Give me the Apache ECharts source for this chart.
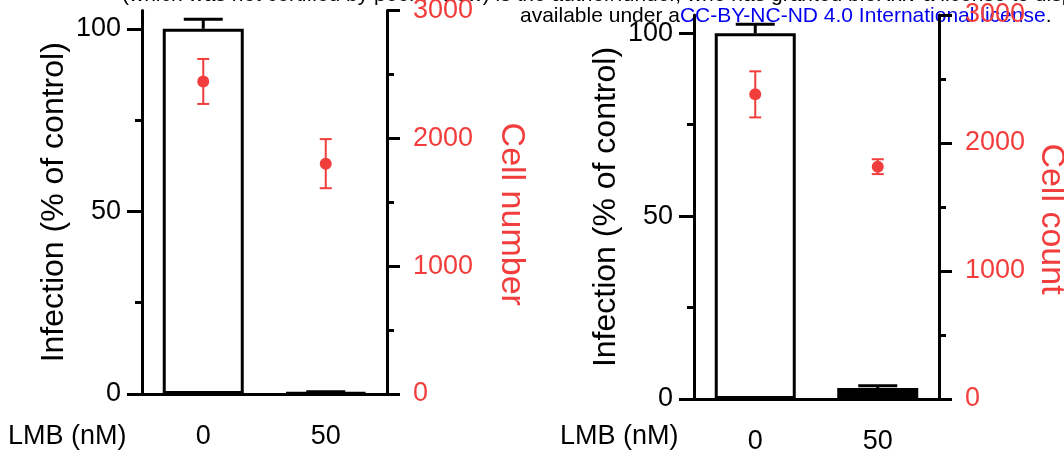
<!DOCTYPE html>
<html>
<head>
<meta charset="utf-8">
<script src="https://cdn.jsdelivr.net/npm/echarts@6/dist/echarts.min.js"></script>
<style>
  html, body { margin: 0; padding: 0; background: #fff; }
  #chart { width: 1064px; height: 457px; }
</style>
</head>
<body>
<div id="chart"></div>
<script>
// LMB dose (nM)
const doses = ['0', '50']
// left panel: infection (% of control) + cell number
const infectionA = [100, 0.4]
const infectionErrA = [2.6, 0.2]
const cellNumberA = [2445, 1802]
const cellNumberErrA = [176, 192]
// right panel: infection (% of control) + cell count
const infectionB = [100, 3]
const infectionErrB = [2.5, 0.6]
const cellCountB = [2380, 1815]
const cellCountErrB = [180, 58]
// tick labels of the infection axis
const infectionTicks = [0, 50, 100]

const font = 'Liberation Sans, Arial, sans-serif'
const red = '#f23d3d'
const axisStyle = { color: '#000', width: 3 }

// error bar drawer for custom series, data = [category, value, err]
function errorBars (color, width, cap, upOnly) {
  return function (params, api) {
    const x = api.value(0)
    const y = api.value(1)
    const e = api.value(2)
    const top = api.coord([x, y + e])
    const mid = api.coord([x, y])
    const bot = upOnly ? mid : api.coord([x, y - e])
    const style = { stroke: color, lineWidth: width }
    const children = [
      { type: 'line', shape: { x1: top[0], y1: top[1], x2: bot[0], y2: bot[1] }, style },
      { type: 'line', shape: { x1: top[0] - cap / 2, y1: top[1], x2: top[0] + cap / 2, y2: top[1] }, style }
    ]
    if (!upOnly) {
      children.push({ type: 'line', shape: { x1: bot[0] - cap / 2, y1: bot[1], x2: bot[0] + cap / 2, y2: bot[1] }, style })
    }
    return { type: 'group', children }
  }
}

function withErr (vals, errs) {
  return vals.map((v, i) => [i, v, errs[i]])
}

function xAxisFor (gi) {
  return {
    gridIndex: gi,
    type: 'category',
    data: doses,
    axisLine: { lineStyle: axisStyle },
    axisTick: { alignWithLabel: true, length: 15, lineStyle: { color: '#000', width: 4 } },
    axisLabel: { color: '#000', fontSize: 27, margin: 29, fontFamily: font }
  }
}

function infectionAxis (gi) {
  return {
    gridIndex: gi,
    type: 'value',
    min: 0,
    max: 105,
    interval: 50,
    name: 'Infection (% of control)',
    nameLocation: 'middle',
    nameGap: 72,
    nameTextStyle: { color: '#000', fontSize: 32, fontFamily: font },
    axisLine: { show: true, lineStyle: axisStyle },
    axisTick: { show: true, length: 15, customValues: infectionTicks, lineStyle: axisStyle },
    minorTick: { show: true, splitNumber: 2, length: 7, lineStyle: axisStyle },
    axisLabel: { customValues: infectionTicks, color: '#000', fontSize: 27, margin: 21, fontFamily: font },
    splitLine: { show: false }
  }
}

function cellAxis (gi, name, gap) {
  return {
    gridIndex: gi,
    type: 'value',
    position: 'right',
    min: 0,
    max: 3000,
    interval: 1000,
    name: name,
    nameLocation: 'middle',
    nameRotate: -90,
    nameGap: gap,
    nameTextStyle: { color: red, fontSize: 34, fontFamily: font, padding: [0, 0, 0, 24] },
    axisLine: { show: true, lineStyle: axisStyle },
    axisTick: { show: true, length: 13, lineStyle: axisStyle },
    minorTick: { show: true, splitNumber: 2, length: 7, lineStyle: axisStyle },
    axisLabel: { color: red, fontSize: 27, margin: 26, fontFamily: font, formatter: v => String(v) },
    splitLine: { show: false }
  }
}

function panelSeries (xi, yl, yr, inf, infErr, cells, cellErr) {
  return [
    {
      type: 'bar',
      xAxisIndex: xi,
      yAxisIndex: yl,
      z: 2,
      data: inf,
      barWidth: 81,
      itemStyle: {
        color: p => (p.value < 10 ? '#000' : '#fff'),
        borderColor: '#000',
        borderWidth: 3
      }
    },
    {
      type: 'custom',
      xAxisIndex: xi,
      yAxisIndex: yl,
      z: 3,
      data: withErr(inf, infErr),
      renderItem: errorBars('#000', 3, 39, true)
    },
    {
      type: 'custom',
      xAxisIndex: xi,
      yAxisIndex: yr,
      z: 4,
      data: withErr(cells, cellErr),
      renderItem: errorBars(red, 2, 12, false)
    },
    {
      type: 'scatter',
      xAxisIndex: xi,
      yAxisIndex: yr,
      z: 5,
      data: cells.map((v, i) => [i, v]),
      symbolSize: 12,
      itemStyle: { color: red, opacity: 1 }
    }
  ]
}

const chart = echarts.init(document.getElementById('chart'))
chart.setOption({
  backgroundColor: '#fff',
  animation: false,
  grid: [
    { left: 142, top: 10.5, width: 245, height: 383.5, outerBoundsMode: 'none' },
    { left: 694, top: 15, width: 245, height: 384, outerBoundsMode: 'none' }
  ],
  xAxis: [xAxisFor(0), xAxisFor(1)],
  yAxis: [
    infectionAxis(0),
    cellAxis(0, 'Cell number', 107),
    infectionAxis(1),
    cellAxis(1, 'Cell count', 95)
  ],
  graphic: [
    {
      type: 'text', left: 122, top: -15,
      style: {
        text: '(which was not certified by peer review) is the author/funder, who has granted bioRxiv a license to display the preprint in perpetuity.',
        fill: '#000', fontSize: 21, fontFamily: font
      }
    },
    {
      type: 'text', left: 520, top: 6,
      style: {
        text: 'available under a{b|CC-BY-NC-ND 4.0 International license}.',
        fill: '#000', fontSize: 21, fontFamily: font,
        rich: { b: { fill: '#0000ee', fontSize: 21, fontFamily: font } }
      }
    },
    {
      type: 'text', left: 8, top: 423,
      style: { text: 'LMB (nM)', fill: '#000', fontSize: 27, fontFamily: font }
    },
    {
      type: 'text', left: 560, top: 423,
      style: { text: 'LMB (nM)', fill: '#000', fontSize: 27, fontFamily: font }
    }
  ],
  series: [
    ...panelSeries(0, 0, 1, infectionA, infectionErrA, cellNumberA, cellNumberErrA),
    ...panelSeries(1, 2, 3, infectionB, infectionErrB, cellCountB, cellCountErrB)
  ]
})
</script>
</body>
</html>
